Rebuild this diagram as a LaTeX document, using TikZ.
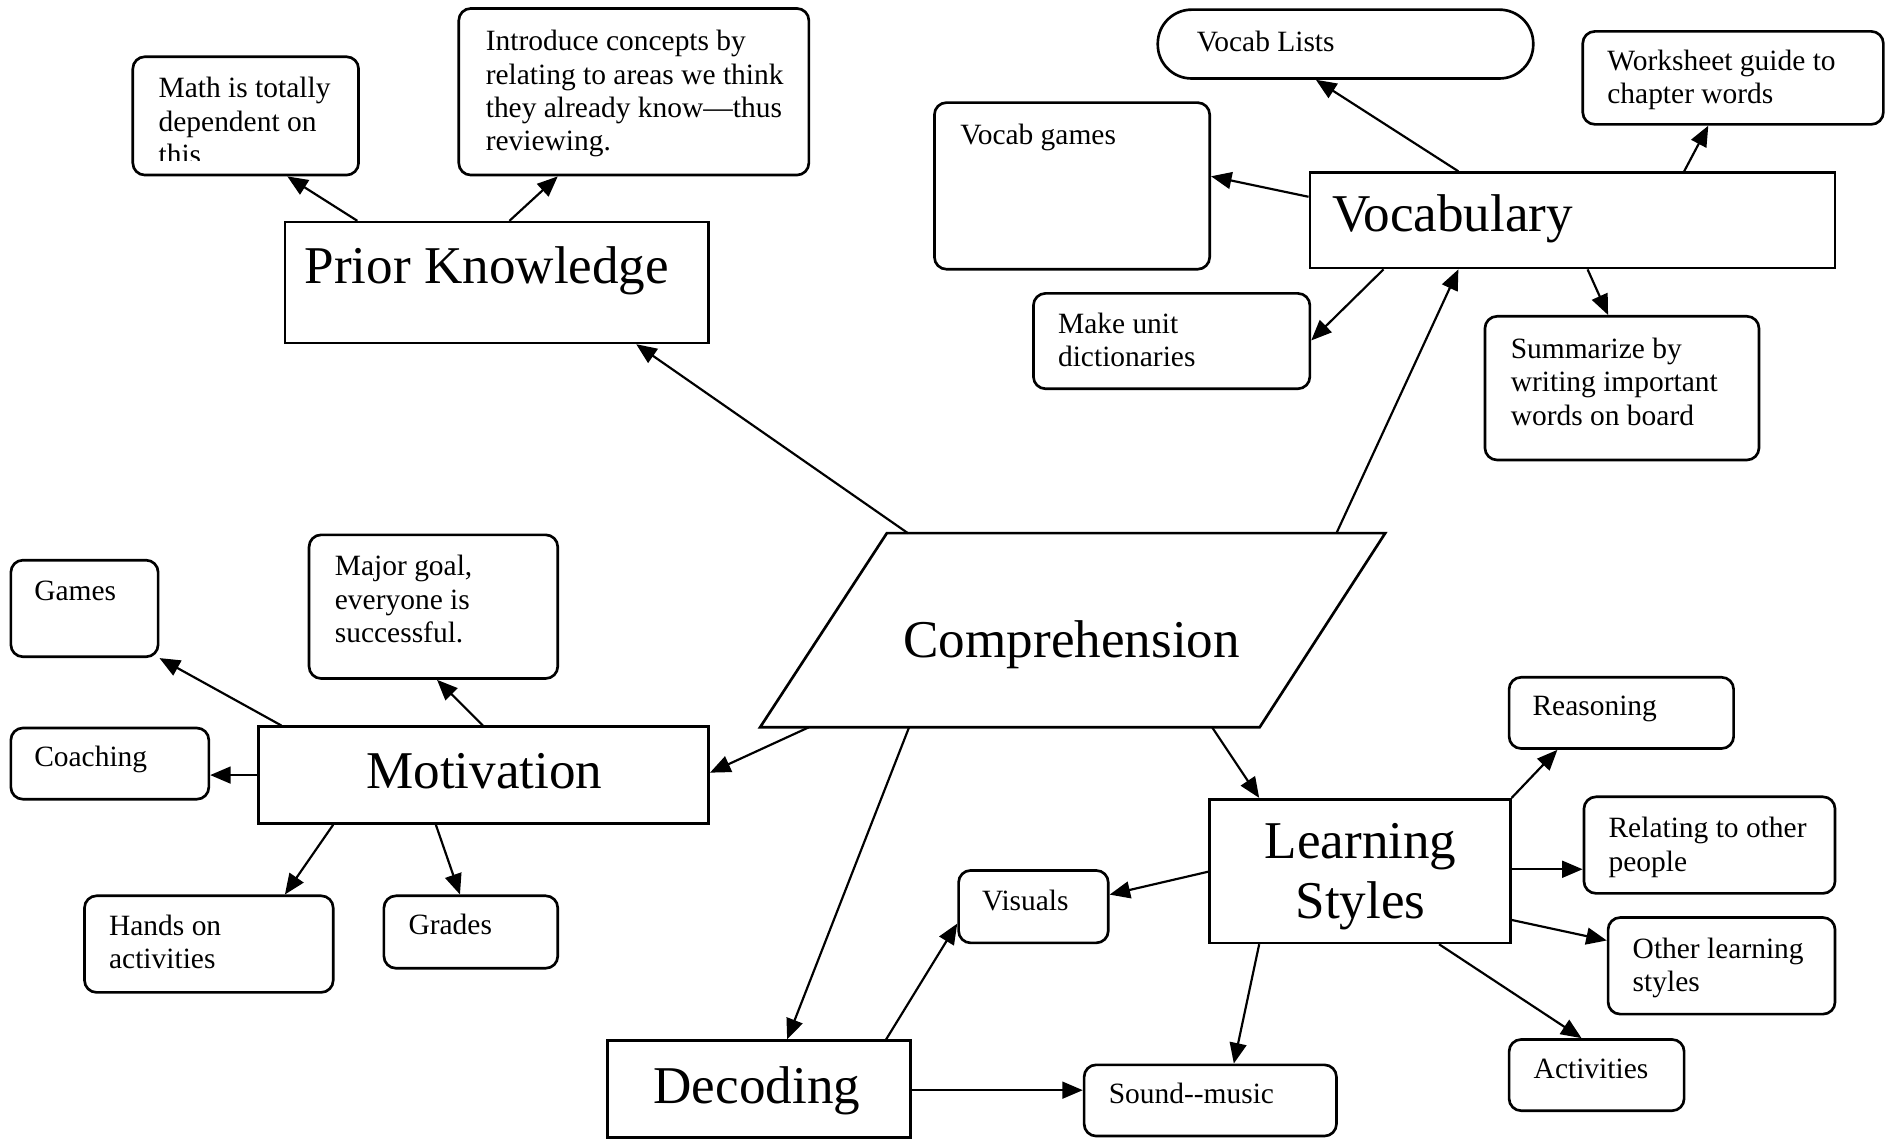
\documentclass[tikz,border=0pt]{standalone}
\usepackage{fontspec}
\setmainfont{Liberation Serif}
\usetikzlibrary{arrows.meta,fit,calc}

% several left-aligned lines whose baseline is that of the first line
\newcommand{\mlines}[1]{\begin{tabular}[t]{@{}l@{}}#1\end{tabular}}

\begin{document}
\begin{tikzpicture}[x=0.5pt,y=-0.5pt,
  box/.style={draw, line width=1.1pt, inner sep=0pt},
  rbox/.style={box, rounded corners=5pt},
  txt/.style={inner sep=0pt, anchor=base west, font=\fontsize{12.2}{13.8}\selectfont},
  bigtxt/.style={inner sep=0pt, anchor=base west, font=\fontsize{22}{26}\selectfont},
  arr/.style={line width=0.9pt, -{Triangle[length=8.5pt,width=7pt]}}]

\useasboundingbox (0,0) rectangle (1568,944);

% ---------- Prior Knowledge ----------
\node[box, fit={(236,184) (587,284)}] (pk) {};
\node[bigtxt] (pkT) at (252,235) {Prior Knowledge};

\node[rbox, fit={(110,47) (297,145)}] (math) {};
\begin{scope}
  \clip (110,47) rectangle (297,133);
  \node[txt] (mathT) at (131,81) {\mlines{Math is totally\\dependent on\\this}};
\end{scope}

\node[rbox, fit={(380,7) (670,145)}] (intro) {};
\node[txt] (introT) at (402,42) {\mlines{Introduce concepts by\\relating to areas we think\\they already know—thus\\reviewing.}};

% ---------- Vocabulary ----------
\node[box, fit={(1085,143) (1520,222)}] (voc) {};
\node[bigtxt] (vocT) at (1103,192) {Vocabulary};

\node[box, rounded corners=14pt, fit={(959,8) (1270,65)}] (lists) {};
\node[txt] (listsT) at (991,43) {Vocab Lists};

\node[rbox, fit={(1311,26) (1560,103)}] (work) {};
\node[txt] (workT) at (1331,58) {\mlines{Worksheet guide to\\chapter words}};

\node[rbox, fit={(774,85) (1002,223)}] (vgames) {};
\node[txt] (vgamesT) at (795,120) {Vocab games};

\node[rbox, fit={(856,243) (1085,322)}] (dict) {};
\node[txt] (dictT) at (876,276) {\mlines{Make unit\\dictionaries}};

\node[rbox, fit={(1230,262) (1457,381)}] (summ) {};
\node[txt] (summT) at (1251,297) {\mlines{Summarize by\\writing important\\words on board}};

% ---------- Comprehension ----------
\node[inner sep=0pt, fit={(630,442) (1147,602)}] (comp) {};
\draw[line width=1.1pt] ($(comp.north west)+(105,0)$) -- (comp.north east)
  -- ($(comp.south east)+(-104,0)$) -- (comp.south west) -- cycle;
\node[bigtxt] (compT) at (748,545) {Comprehension};

% ---------- Motivation ----------
\node[box, fit={(214,602) (587,682)}] (motiv) {};
\node[bigtxt] (motivT) at (303,653) {Motivation};

\node[rbox, fit={(9,464) (131,544)}] (games) {};
\node[txt] (gamesT) at (28,497) {Games};

\node[rbox, fit={(256,443) (462,562)}] (goal) {};
\node[txt] (goalT) at (277,477) {\mlines{Major goal,\\everyone is\\successful.}};

\node[rbox, fit={(9,603) (173,662)}] (coach) {};
\node[txt] (coachT) at (28,635) {Coaching};

\node[rbox, fit={(70,742) (276,822)}] (hands) {};
\node[txt] (handsT) at (90,775) {\mlines{Hands on\\activities}};

\node[rbox, fit={(318,742) (462,802)}] (grades) {};
\node[txt] (gradesT) at (338,774) {Grades};

% ---------- Decoding ----------
\node[box, fit={(503,862) (754,942)}] (dec) {};
\node[bigtxt] (decT) at (541,914) {Decoding};

\node[rbox, fit={(794,721) (918,781)}] (vis) {};
\node[txt] (visT) at (813,754) {Visuals};

\node[rbox, fit={(898,882) (1107,941)}] (sound) {};
\node[txt] (soundT) at (918,914) {Sound-{}-music};

% ---------- Learning Styles ----------
\node[box, fit={(1002,662) (1251,781)}] (ls) {};
\node[bigtxt, anchor=base] (lsT1) at (1127,711) {Learning};
\node[bigtxt, anchor=base] (lsT2) at (1127,761) {Styles};

\node[rbox, fit={(1250,561) (1436,620)}] (reas) {};
\node[txt] (reasT) at (1269,593) {Reasoning};

\node[rbox, fit={(1312,660) (1520,740)}] (rel) {};
\node[txt] (relT) at (1332,694) {\mlines{Relating to other\\people}};

\node[rbox, fit={(1332,760) (1520,840)}] (other) {};
\node[txt] (otherT) at (1352,794) {\mlines{Other learning\\styles}};

\node[rbox, fit={(1250,861) (1395,920)}] (act) {};
\node[txt] (actT) at (1270,893) {Activities};

% ---------- connectors ----------
\draw[arr] (pk.north -| 296,0) -- (math.south -| 238,0);
\draw[arr] (pk.north -| 422,0) -- (intro.south -| 462,0);
\draw[arr] (comp.north -| 752,0) -- (pk.south -| 527,0);

\draw[arr] (voc.north -| 1208,0) -- (lists.south -| 1090,0);
\draw[arr] (voc.west |- 0,163) -- (vgames.east |- 0,146);
\draw[arr] (voc.north -| 1395,0) -- (work.south -| 1415,0);
\draw[arr] (voc.south -| 1146,0) -- (dict.east |- 0,282);
\draw[arr] (voc.south -| 1315,0) -- (summ.north -| 1332,0);
\draw[arr] (comp.north -| 1107,0) -- (voc.south -| 1208,0);

\draw[arr] (comp.south -| 670,0) -- (motiv.east |- 0,640);
\draw[arr] (motiv.north -| 233,0) -- (games.south east);
\draw[arr] (motiv.north -| 400,0) -- (goal.south -| 362,0);
\draw[arr] (motiv.west |- 0,642) -- (coach.east |- 0,642);
\draw[arr] (motiv.south -| 276,0) -- (hands.north -| 236,0);
\draw[arr] (motiv.south -| 361,0) -- (grades.north -| 381,0);

\draw[arr] (comp.south -| 753,0) -- (dec.north -| 652,0);
\draw[arr] (dec.north -| 734,0) -- (vis.west |- 0,765);
\draw[arr] (dec.east |- 0,903) -- (sound.west |- 0,903);

\draw[arr] (comp.south -| 1004,0) -- (ls.north -| 1043,0);
\draw[arr] (ls.west |- 0,722) -- (vis.east |- 0,741);
\draw[arr] (ls.south -| 1043,0) -- (sound.north -| 1022,0);
\draw[arr] (ls.north east) -- (reas.south -| 1290,0);
\draw[arr] (ls.east |- 0,720) -- (rel.west |- 0,720);
\draw[arr] (ls.east |- 0,762) -- (other.west |- 0,779);
\draw[arr] (ls.south -| 1192,0) -- (act.north -| 1310,0);
\end{tikzpicture}
\end{document}
